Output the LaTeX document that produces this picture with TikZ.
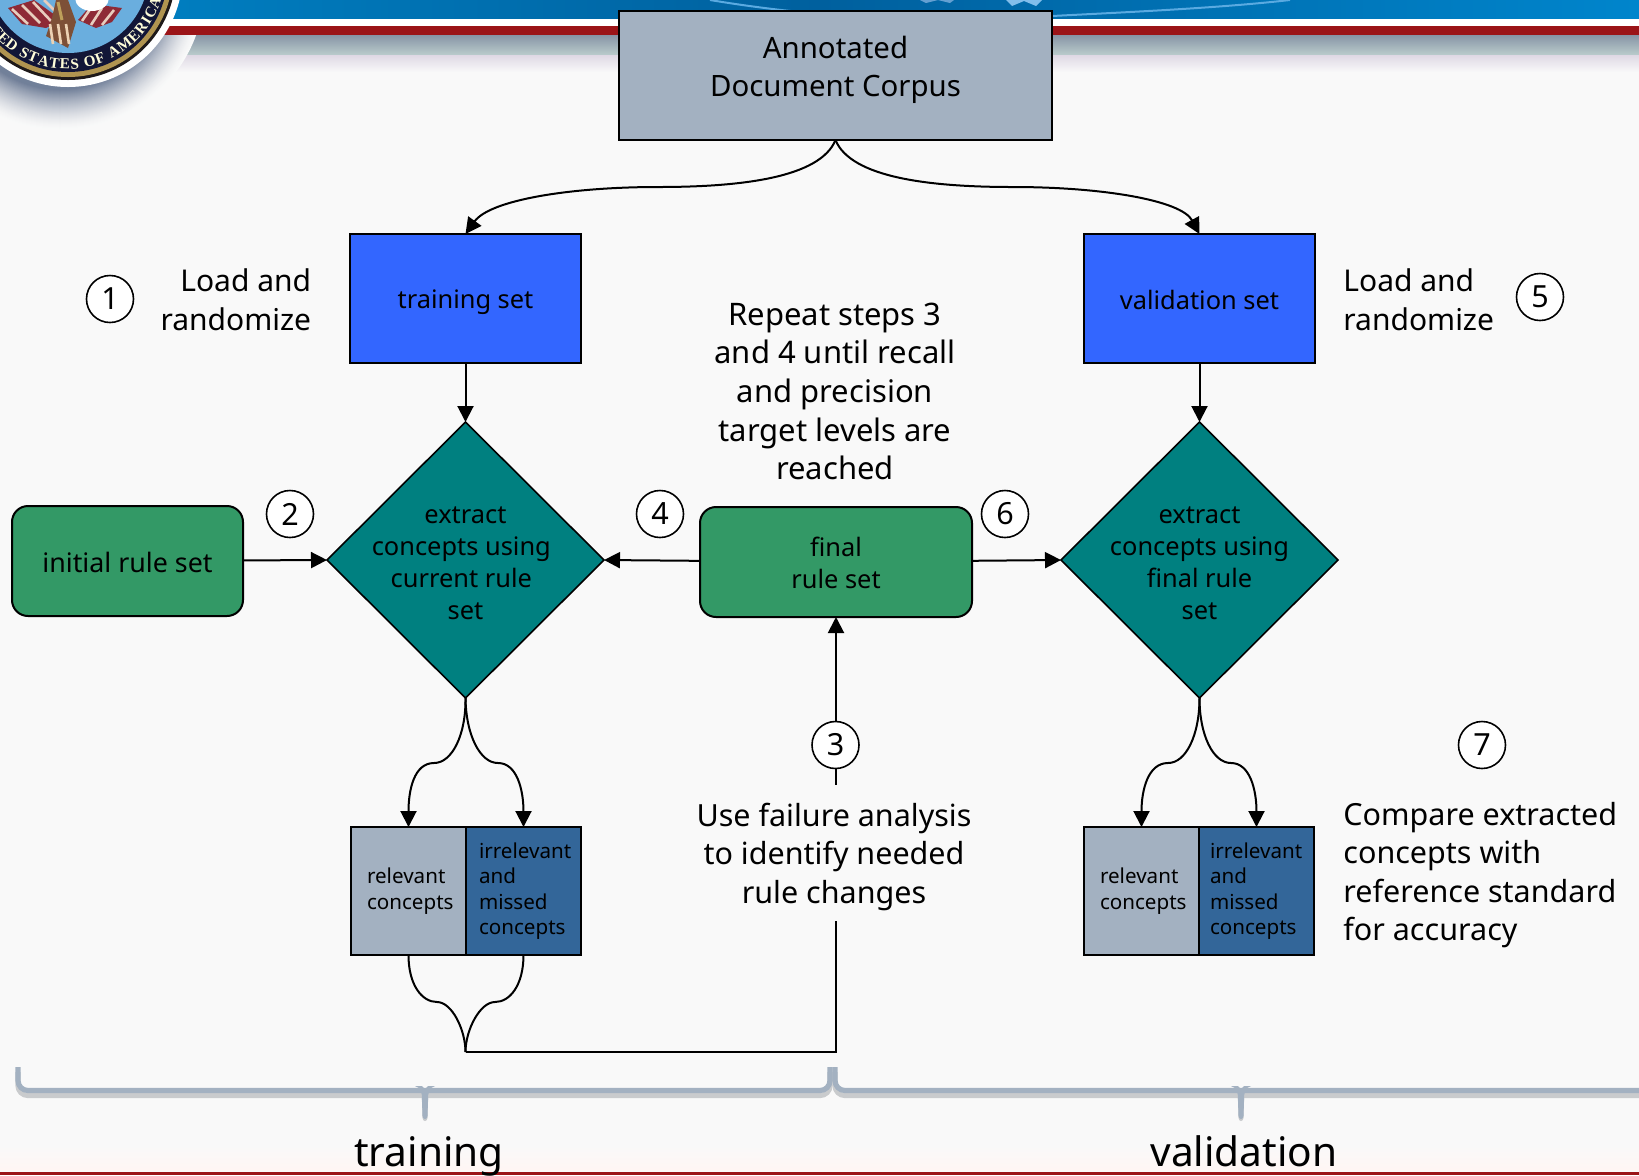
\documentclass[tikz,border=0pt]{standalone}
\usepackage{fontspec}
\setmainfont{Noto Sans}
\newfontfamily\sealfont{Liberation Serif}
\usetikzlibrary{arrows.meta,shapes.geometric,decorations.text}
\definecolor{pagebg}{HTML}{F9F9F9}
\definecolor{corpus}{HTML}{A3B1C1}
\definecolor{setblue}{HTML}{3366FF}
\definecolor{tealbox}{HTML}{008080}
\definecolor{rulegreen}{HTML}{339966}
\definecolor{darkblue}{HTML}{336699}
\definecolor{bandred}{HTML}{9B1418}
\definecolor{shadowgrey}{HTML}{C9CBCD}
\definecolor{sealshade}{HTML}{5F6F8C}
\definecolor{flagred}{HTML}{8E2A36}
\definecolor{flagpale}{HTML}{E8CDBE}
\newcommand{\bigfont}{\fontsize{15.25}{19.3}\selectfont}
\newcommand{\midfont}{\fontsize{12.7}{16}\selectfont}
\newcommand{\smallfont}{\fontsize{10.3}{12.7}\selectfont}
\tikzset{
  wh/.style 2 args={minimum width=#1*0.5pt,minimum height=#2*0.5pt},
  thing/.style={draw=black,line width=1pt,outer sep=0pt,inner sep=0pt,align=center,text=black},
  corpusbox/.style={thing,fill=corpus,wh={433}{129}},
  corpustext/.style={font=\fontsize{14.7}{19.3}\selectfont,align=center,text=black,inner sep=0pt,yshift=2.9pt},
  setbox/.style={thing,fill=setblue,wh={231}{129}},
  rulebox/.style={thing,fill=rulegreen,rounded corners=8pt},
  dia/.style={thing,diamond,fill=tealbox,aspect=1,line width=0.8pt,wh={277}{276}},
  midtext/.style={font=\midfont,align=center,text=black,inner sep=0pt},
  diatext/.style={midtext,yshift=-1.6pt},
  relbox/.style={thing,fill=corpus,font=\smallfont,align=left,minimum height=64pt,text width=41.5pt,inner xsep=8pt},
  irrbox/.style={thing,fill=darkblue,font=\smallfont,align=left,minimum height=64pt,text width=44.5pt,inner xsep=6.5pt},
  step circle/.style={draw=black,fill=white,circle,line width=0.8pt,minimum size=23.5pt,inner sep=0pt,font=\bigfont},
  note/.style={font=\bigfont,text=black,inner sep=0pt},
  link/.style={draw=black,line width=1pt},
  arrowed/.style={link,-{Triangle[length=8pt,width=8pt]}},
  brace/.style={line width=2.6pt,rounded corners=5pt},
  phase/.style={font=\fontsize{20.3}{24}\selectfont,text=black,inner sep=0pt,anchor=base}
}
\newcommand{\bracetip}[2]{%
  \fill[#2] (#1-10,1088) .. controls (#1-4,1090) and (#1-3,1094) .. (#1-3,1102) -- (#1-2.5,1118)
     .. controls (#1-2,1122) and (#1+2,1122) .. (#1+2.5,1118) -- (#1+3,1102)
     .. controls (#1+3,1094) and (#1+4,1090) .. (#1+10,1088) -- (#1+3,1088) -- (#1,1091) -- (#1-3,1088) -- cycle;}
\begin{document}
\begin{tikzpicture}[x=0.5pt,y=-0.5pt]
\useasboundingbox (0,0) rectangle (1639,1175);
\begin{scope}
\clip (0,0) rectangle (1639,1175);
% page and header band
\fill[pagebg] (0,0) rectangle (1639,1175);
\shade[left color={rgb,255:red,0;green,133;blue,200},right color={rgb,255:red,0;green,133;blue,204},middle color={rgb,255:red,0;green,96;blue,158}] (0,0) rectangle (1639,19);
\fill[white] (0,19) rectangle (1639,26);
\fill[bandred] (0,26) rectangle (1639,35);
\shade[top color={rgb,255:red,135;green,148;blue,165},bottom color={rgb,255:red,186;green,204;blue,204}] (0,35) rectangle (1639,55);
\shade[top color={rgb,255:red,222;green,216;blue,228},bottom color=pagebg] (0,55) rectangle (1639,72);
\draw[line width=1pt,color={rgb,255:red,90;green,170;blue,225}] (1052,16) .. controls (1130,12) and (1220,8) .. (1290,0);
\draw[line width=1pt,color={rgb,255:red,90;green,170;blue,225}] (710,0) .. controls (740,5) and (770,9) .. (800,12);
\fill[color={rgb,255:red,130;green,190;blue,235}] (1006,0) -- (1012,6) -- (1024,1) -- (1036,6) -- (1042,0) -- cycle;
\fill[color={rgb,255:red,100;green,160;blue,210}] (920,0) -- (926,3) -- (938,0) -- (950,3) -- (954,0) -- cycle;
% seal shadow
\begin{scope}
\clip (0,35) rectangle (260,160);
\foreach \i in {0,...,40}{
  \pgfmathsetmacro{\rr}{145-\i}
  \pgfmathsetmacro{\pp}{88*pow(\i/40,1.5)}
  \fill[color=sealshade!\pp!pagebg] (60,-15) circle[radius=\rr];
}
\end{scope}
% seal
\fill[white] (68,-28) circle[radius=115];
\fill[color={rgb,255:red,30;green,25;blue,25}] (68,-28) circle[radius=108];
\fill[color={rgb,255:red,176;green,148;blue,80}] (68,-28) circle[radius=105];
\fill[color={rgb,255:red,18;green,22;blue,55}] (68,-28) circle[radius=100];
\fill[color={rgb,255:red,106;green,174;blue,222}] (68,-28) circle[radius=81];
\path[decorate,decoration={text along path,text align=fit to path,
  text={|\sealfont\bfseries\fontsize{7.6}{8}\selectfont\color{white!85!yellow}|UNITED STATES OF AMERICA}}]
  (68,-28) ++(162:97) arc[start angle=162,end angle=16,radius=97];
% eagle and flags
\fill[flagred] (8,8) -- (34,0) -- (62,20) -- (46,28) -- (22,24) -- cycle;
\fill[flagred] (122,8) -- (92,4) -- (78,20) -- (96,28) -- (112,22) -- cycle;
\foreach \a/\b/\c/\d in {12/9/28/24,22/5/40/23,33/2/51/21,44/0/60/16}{
  \draw[line width=1.3pt,flagpale] (\a,\b) -- (\c,\d);
}
\foreach \a/\b/\c/\d in {114/10/102/25,102/8/91/25,91/8/82/21}{
  \draw[line width=1.3pt,flagpale] (\a,\b) -- (\c,\d);
}
\fill[color={rgb,255:red,125;green,80;blue,55}] (56,0) -- (68,0) -- (76,22) -- (68,48) -- (46,36) -- (52,18) -- cycle;
\foreach \a in {50,58,66}{
  \draw[line width=1.3pt,color={rgb,255:red,236;green,210;blue,180}] (\a,24) -- (\a+3,44);
}
\draw[line width=1.5pt,color={rgb,255:red,190;green,160;blue,90}] (58,2) -- (62,20);
\fill[white] (92,-2) ellipse[x radius=17,y radius=13];
% brackets
\begin{scope}[yshift=-2.5pt]
\draw[brace,shadowgrey] (18,1067) -- (18,1090.5) -- (830,1090.5) -- (830,1067);
\draw[brace,shadowgrey] (835,1067) -- (835,1090.5) -- (1660,1090.5);
\end{scope}
\bracetip{425}{shadowgrey}
\bracetip{1241}{shadowgrey}
\draw[brace,corpus] (18,1067) -- (18,1090.5) -- (830,1090.5) -- (830,1067);
\draw[brace,corpus] (835,1067) -- (835,1090.5) -- (1660,1090.5);
\begin{scope}[yshift=1pt]
\bracetip{425}{corpus}
\bracetip{1241}{corpus}
\end{scope}
% bottom edge
\shade[top color=pagebg,bottom color={rgb,255:red,255;green,246;blue,244}] (0,1145) rectangle (1639,1170);
\fill[bandred] (0,1171.5) rectangle (1639,1175);
\end{scope}

% boxes
\node[corpusbox,label={[corpustext]center:{Annotated\\Document Corpus}}] (corpus) at (835.5,75.5) {};
\node[setbox,label={[midtext,yshift=-2pt]center:{training set}}] (train) at (465.5,298.5) {};
\node[setbox,label={[midtext,yshift=-0.5pt]center:{validation set}}] (valid) at (1199.5,298.5) {};
\node[dia,label={[diatext]center:{extract\\concepts using\hspace*{4.2pt}\mbox{}\\current rule\hspace*{4.2pt}\mbox{}\\set}}] (dtrain) at (465.5,560) {};
\node[dia,label={[diatext]center:{extract\\concepts using\\final rule\\set}}] (dvalid) at (1199.5,560) {};
\node[rulebox,wh={231}{110},label={[midtext,font=\fontsize{13.4}{16}\selectfont,yshift=-0.5pt]center:{initial rule set}}] (init) at (127.5,561) {};
\node[rulebox,wh={272}{110},label={[midtext,yshift=-0.5pt]center:{final\\rule set}}] (final) at (836,562) {};
\node[relbox] (rel1) at (408.5,891) {relevant\\concepts};
\node[irrbox] (irr1) at (523.5,891) {irrelevant\\and\\missed\\concepts};
\node[relbox] (rel2) at (1141.5,891) {relevant\\concepts};
\node[irrbox,text width=46.5pt,inner xsep=5.5pt] (irr2) at (1256.5,891) {irrelevant\\and\\missed\\concepts};
\node[minimum width=140pt,minimum height=68pt,inner sep=0pt,label={[note,align=center,yshift=-1.9pt,xshift=-1pt]center:{Use failure analysis\\to identify needed\\rule changes}}] (fail) at (836,853) {};
\coordinate (merge) at (465.5,1052);
\coordinate (corner) at (836,1052);

% connectors
\draw[arrowed] (corpus.south) .. controls (820,178) and (740,187) .. (658,187) .. controls (570,187) and (490,200) .. (train.north);
\draw[arrowed] (corpus.south) .. controls (851,178) and (931,187) .. (1013,187) .. controls (1101,187) and (1181,200) .. (valid.north);
\draw[arrowed] (train) -- (dtrain.north);
\draw[arrowed] (valid) -- (dvalid.north);
\draw[arrowed] (init) -- (dtrain.west);
\draw[arrowed] (final) -- (dtrain.east);
\draw[arrowed] (final) -- (dvalid.west);
\draw[arrowed] (fail.north) -- (final.south);
\draw[link] (fail.south) -- (corner) -- (merge);
\draw[arrowed] (dtrain.south) .. controls (466,735) and (452,763) .. (434,763) .. controls (414,763) and (408.5,790) .. (rel1.north);
\draw[arrowed] (dtrain.south) .. controls (466,735) and (480,763) .. (498,763) .. controls (517,763) and (523.5,790) .. (irr1.north);
\draw[arrowed] (dvalid.south) .. controls (1199.5,735) and (1186,763) .. (1168,763) .. controls (1148,763) and (1141.5,790) .. (rel2.north);
\draw[arrowed] (dvalid.south) .. controls (1199.5,735) and (1213,763) .. (1231,763) .. controls (1250,763) and (1256.5,790) .. (irr2.north);
\draw[link] (rel1.south) .. controls (408.5,985) and (422,1002) .. (437,1002) .. controls (452,1002) and (465.5,1030) .. (merge);
\draw[link] (irr1.south) .. controls (523.5,985) and (510,1002) .. (495,1002) .. controls (480,1002) and (465.5,1030) .. (merge);

% step circles
\node[step circle] (s1) at (110,299) {1};
\node[step circle] (s2) at (290,514) {2};
\node[step circle] (s3) at (835.5,745) {3};
\node[step circle] (s4) at (660,514) {4};
\node[step circle] (s5) at (1540,297) {5};
\node[step circle] (s6) at (1005,514) {6};
\node[step circle] (s7) at (1482,745) {7};

% notes
\node[note,font=\fontsize{15}{19.3}\selectfont,align=right,anchor=east] (n1) at (311.5,299.5) {Load and\\randomize};
\node[note,font=\fontsize{15}{19.3}\selectfont,align=left,anchor=west] (n5) at (1343,299.5) {Load and\\randomize};
\node[note,font=\fontsize{15.5}{19.3}\selectfont,align=center] (n3) at (835,391.5) {Repeat steps 3\\and 4 until recall\\and precision\\target levels are\\reached};
\node[note,align=left,anchor=west] (n7) at (1343,875) {Compare extracted\\concepts with\\reference standard\\for accuracy};
\node[phase] (ptrain) at (429,1166) {training};
\node[phase] (pvalid) at (1244,1166) {validation};
\end{tikzpicture}
\end{document}
